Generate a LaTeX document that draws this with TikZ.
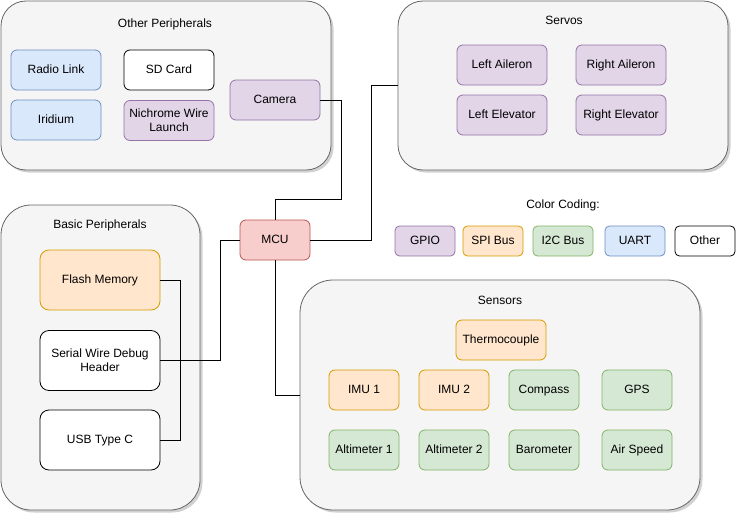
\documentclass[tikz,border=0pt]{standalone}
\usepackage{fontspec}
\setmainfont{Liberation Sans}
\usetikzlibrary{shadows}
\definecolor{pF}{HTML}{E1D5E7}\definecolor{pD}{HTML}{9673A6}
\definecolor{oF}{HTML}{FFE6CC}\definecolor{oD}{HTML}{D79B00}
\definecolor{gF}{HTML}{D5E8D4}\definecolor{gD}{HTML}{82B366}
\definecolor{bF}{HTML}{DAE8FC}\definecolor{bD}{HTML}{6C8EBF}
\definecolor{rF}{HTML}{F8CECC}\definecolor{rD}{HTML}{B85450}
\definecolor{cF}{HTML}{F5F5F5}\definecolor{cD}{HTML}{666666}
\begin{document}
\begin{tikzpicture}[x=1pt,y=-1pt,
  base/.style={rectangle, rounded corners=6pt, line width=0.8pt, inner sep=1pt, align=center,
    font=\fontsize{12}{14}\selectfont, minimum width=90pt, minimum height=40pt},
  ln/.style={text height=9.6pt, text depth=2.4pt},
  gpio/.style={base, ln, draw=pD, fill=pF},
  spi/.style={base, ln, draw=oD, fill=oF},
  itc/.style={base, ln, draw=gD, fill=gF},
  uart/.style={base, ln, draw=bD, fill=bF},
  other/.style={base, ln, draw=black, fill=white},
  mcustyle/.style={base, ln, draw=rD, fill=rF},
  cont/.style={rectangle, draw=cD, fill=cF, line width=0.8pt, inner sep=0pt,
    drop shadow={shadow xshift=2.5pt, shadow yshift=-2.5pt, fill=black, opacity=0.18}},
  title/.style={font=\fontsize{12}{14}\selectfont, inner sep=0pt},
  wire/.style={draw=black, line width=0.8pt},
  leg/.style={minimum width=60pt, minimum height=30pt, rounded corners=4.5pt},
]
\useasboundingbox (0,0) rectangle (745,522);
% containers
\node[cont, rounded corners=25pt, minimum width=330pt, minimum height=169pt] (otherp) at (166,85.5) {};
\node[cont, rounded corners=25pt, minimum width=330pt, minimum height=169pt] (servos) at (563,85.5) {};
\node[cont, rounded corners=30pt, minimum width=199pt, minimum height=305pt] (basic) at (100.5,357.5) {};
\node[cont, rounded corners=33pt, minimum width=400pt, minimum height=230pt] (sensors) at (500,395) {};
% titles
\node[title] (totherp) at (165,24.5) {Other Peripherals};
\node[title] (tservos) at (564,20.5) {Servos};
\node[title] (tbasic) at (100,225.5) {Basic Peripherals};
\node[title] (tsensors) at (500,300.5) {Sensors};
\node[title] (tlegend) at (563,205.5) {Color Coding:};
% other peripherals
\node[uart] (radio) at (56,70) {Radio Link};
\node[uart] (iridium) at (56,120) {Iridium};
\node[other] (sd) at (169,70) {SD Card};
\node[base, draw=pD, fill=pF] (nichrome) at (169,120.5) {Nichrome Wire\\Launch};
\node[gpio] (camera) at (275,100) {Camera};
% servos
\node[gpio] (lail) at (502,65) {Left Aileron};
\node[gpio] (rail) at (621,65) {Right Aileron};
\node[gpio] (lele) at (502,115) {Left Elevator};
\node[gpio] (rele) at (621,115) {Right Elevator};
% basic
\node[spi, minimum width=120pt, minimum height=60pt, rounded corners=9pt] (flash) at (100,280) {Flash Memory};
\node[base, draw=black, fill=white, minimum width=120pt, minimum height=60pt, rounded corners=9pt] (swd) at (100,360.5) {Serial Wire Debug\\Header};
\node[other, minimum width=120pt, minimum height=60pt, rounded corners=9pt] (usb) at (100,440) {USB Type C};
% mcu
\node[mcustyle, minimum width=70pt] (mcu) at (275,240) {MCU};
% sensors
\node[spi] (thermo) at (501,340) {Thermocouple};
\node[spi, minimum width=70pt] (imu1) at (364,390) {IMU 1};
\node[spi, minimum width=70pt] (imu2) at (454,390) {IMU 2};
\node[itc, minimum width=70pt] (compass) at (544,390) {Compass};
\node[itc, minimum width=70pt] (gps) at (637,390) {GPS};
\node[itc, minimum width=70pt] (alt1) at (364,450) {Altimeter 1};
\node[itc, minimum width=70pt] (alt2) at (454,450) {Altimeter 2};
\node[itc, minimum width=70pt] (baro) at (544,450) {Barometer};
\node[itc, minimum width=70pt] (airspeed) at (637,450) {Air Speed};
% legend
\node[gpio, leg] (lgpio) at (425,241) {GPIO};
\node[spi, leg] (lspi) at (493,241) {SPI Bus};
\node[itc, leg] (li2c) at (563,241) {I2C Bus};
\node[uart, leg] (luart) at (635,241) {UART};
\node[other, leg] (lother) at (705,241) {Other};
% wires
\draw[wire] (flash.east) -- ++(20,0) |- (usb.east);
\draw[wire] (swd.east) -- ++(60,0) |- (mcu.west);
\draw[wire] (mcu.south) |- (sensors.west);
\draw[wire] (mcu.north) -- ++(0,-20) -| ([xshift=21pt]camera.east) -- (camera.east);
\draw[wire] (mcu.east) -- ++(61,0) |- (servos.west);
\end{tikzpicture}
\end{document}
